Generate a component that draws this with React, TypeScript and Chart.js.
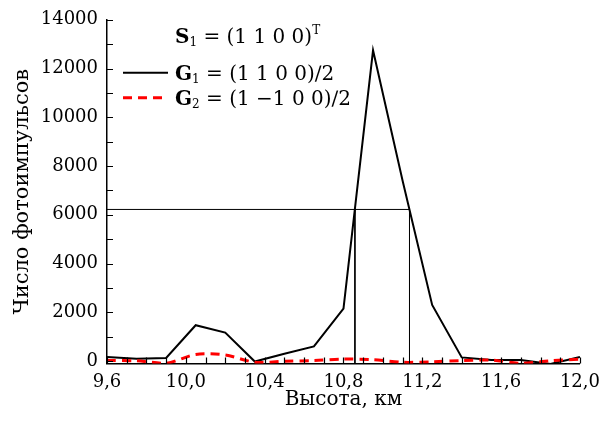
import React, { useEffect, useRef } from "react";
import { Chart, registerables } from "chart.js";

Chart.register(...registerables);

// ---- data ----
const heights = [9.6, 9.75, 9.9, 10.05, 10.2, 10.35, 10.5, 10.65, 10.8, 10.95, 11.1, 11.25, 11.4, 11.55, 11.7, 11.85, 12.0];
const g1Counts = [170, 100, 130, 1470, 1170, -20, 300, 600, 2150, 12750, 7400, 2300, 150, 40, 40, -120, 170];
const g2Counts = [20, 10, -90, 270, 250, -50, -10, 20, 80, 60, -50, -30, 20, 40, -90, 10, 80];

const halfLevel = 6220;
const halfLeft = 10.858;
const halfRight = 11.135;

const xTickValues = [9.6, 10.0, 10.4, 10.8, 11.2, 11.6, 12.0];
const xMinorTicks = [9.6, 9.7, 9.8, 9.9, 10.0, 10.1, 10.2, 10.3, 10.4, 10.5, 10.6, 10.7, 10.8, 10.9, 11.0, 11.1, 11.2, 11.3, 11.4, 11.5, 11.6, 11.7, 11.8, 11.9, 12.0];
const yTickValues = [0, 2000, 4000, 6000, 8000, 10000, 12000, 14000];
const yMinorTicks = [0, 1000, 2000, 3000, 4000, 5000, 6000, 7000, 8000, 9000, 10000, 11000, 12000, 13000, 14000];

const xMin = 9.6;
const xMax = 12.0;
const yMin = -100;
const yMax = 14000;

const FAM = '"DejaVu Serif", serif';

const innerTicksPlugin = {
  id: "innerTicks",
  afterDraw(chart: any) {
    const { ctx, chartArea } = chart;
    const xs = chart.scales.x;
    const ys = chart.scales.y;
    ctx.save();
    ctx.strokeStyle = "#000";
    ctx.lineWidth = 1.2;
    ctx.beginPath();
    for (const v of xMinorTicks) {
      const px = Math.round(xs.getPixelForValue(v)) + 0.5;
      ctx.moveTo(px, chartArea.bottom);
      ctx.lineTo(px, chartArea.bottom - 6);
    }
    for (const v of yMinorTicks) {
      const py = Math.round(ys.getPixelForValue(v)) + 0.5;
      ctx.moveTo(chartArea.left, py);
      ctx.lineTo(chartArea.left + 6, py);
    }
    ctx.stroke();
    ctx.restore();
  },
};

const formulaLegendPlugin = {
  id: "formulaLegend",
  afterDraw(chart: any) {
    const { ctx, chartArea } = chart;
    const size = 20;
    const reg = `${size}px ${FAM}`;
    const bold = `bold ${size}px ${FAM}`;
    const small = `${Math.round(size * 0.62)}px ${FAM}`;
    const textX = chartArea.left + 68;
    const top = chartArea.top;
    const drawRuns = (x: number, y: number, runs: { t: string; f: string; dy?: number }[]) => {
      for (const r of runs) {
        ctx.font = r.f;
        ctx.fillText(r.t, x, y + (r.dy || 0));
        x += ctx.measureText(r.t).width;
      }
    };
    ctx.save();
    ctx.fillStyle = "#000";
    ctx.textBaseline = "alphabetic";
    ctx.textAlign = "left";
    drawRuns(textX, top + 23, [
      { t: "S", f: bold },
      { t: "1", f: small, dy: 3 },
      { t: " = (1 1 0 0)", f: reg },
      { t: "T", f: small, dy: -9 },
    ]);
    drawRuns(textX, top + 60, [
      { t: "G", f: bold },
      { t: "1", f: small, dy: 3 },
      { t: " = (1 1 0 0)∕2", f: reg },
    ]);
    drawRuns(textX, top + 85, [
      { t: "G", f: bold },
      { t: "2", f: small, dy: 3 },
      { t: " = (1 −1 0 0)∕2", f: reg },
    ]);
    // line samples
    const sx0 = chartArea.left + 16;
    const sx1 = chartArea.left + 61;
    ctx.strokeStyle = "#000";
    ctx.lineWidth = 2;
    ctx.setLineDash([]);
    ctx.beginPath();
    ctx.moveTo(sx0, top + 53);
    ctx.lineTo(sx1, top + 53);
    ctx.stroke();
    ctx.strokeStyle = "#ff0000";
    ctx.lineWidth = 3;
    ctx.setLineDash([9, 6]);
    ctx.beginPath();
    ctx.moveTo(sx0, top + 78);
    ctx.lineTo(sx1, top + 78);
    ctx.stroke();
    ctx.restore();
  },
};

export default function App() {
  const ref = useRef<HTMLCanvasElement | null>(null);

  useEffect(() => {
    document.body.style.margin = "0";
    if (!ref.current) return;
    const g1 = heights.map((h, i) => ({ x: h, y: g1Counts[i] }));
    const g2 = heights.map((h, i) => ({ x: h, y: g2Counts[i] }));
    const halfH = [
      { x: xMin, y: halfLevel },
      { x: halfRight, y: halfLevel },
    ];
    const vLeft = [
      { x: halfLeft, y: halfLevel },
      { x: halfLeft, y: yMin },
    ];
    const vRight = [
      { x: halfRight, y: halfLevel },
      { x: halfRight, y: yMin },
    ];
    const thin = {
      borderColor: "#000",
      borderWidth: 1,
      pointRadius: 0,
      fill: false,
      tension: 0,
    };
    const chart = new Chart(ref.current, {
      type: "line",
      data: {
        datasets: [
          { label: "half", data: halfH, ...thin },
          { label: "vl", data: vLeft, ...thin },
          { label: "vr", data: vRight, ...thin },
          {
            label: "G2",
            data: g2,
            borderColor: "#ff0000",
            borderWidth: 3,
            borderDash: [9, 6],
            pointRadius: 0,
            fill: false,
            tension: 0.3,
          },
          {
            label: "G1",
            data: g1,
            borderColor: "#000",
            borderWidth: 2,
            pointRadius: 0,
            fill: false,
            tension: 0,
          },
        ],
      },
      options: {
        animation: false,
        responsive: false,
        devicePixelRatio: 1,
        layout: { padding: { top: 18, right: 28, left: 0, bottom: 0 } },
        plugins: {
          legend: { display: false },
          tooltip: { enabled: false },
        },
        scales: {
          x: {
            type: "linear",
            min: xMin,
            max: xMax,
            grid: { display: false, drawTicks: false },
            border: { display: true, color: "#000", width: 1.5 },
            afterBuildTicks: (s: any) => {
              s.ticks = xTickValues.map((v) => ({ value: v }));
            },
            afterFit: (s: any) => {
              s.height = 57.5;
            },
            ticks: {
              color: "#000",
              font: { family: FAM, size: 18 },
              padding: 8,
              maxRotation: 0,
              autoSkip: false,
              callback: (v: any) => Number(v).toFixed(1).replace(".", ","),
            },
            title: {
              display: true,
              text: "Высота, км",
              color: "#000",
              font: { family: FAM, size: 20 },
              padding: { top: 0, bottom: 9 },
            },
          },
          y: {
            type: "linear",
            min: yMin,
            max: yMax,
            grid: { display: false, drawTicks: false },
            border: { display: true, color: "#000", width: 1.5 },
            afterBuildTicks: (s: any) => {
              s.ticks = yTickValues.map((v) => ({ value: v }));
            },
            afterFit: (s: any) => {
              s.width = 107;
            },
            ticks: {
              color: "#000",
              font: { family: FAM, size: 18 },
              padding: 9,
              autoSkip: false,
              callback: (v: any) => String(v),
            },
            title: {
              display: true,
              text: "Число фотоимпульсов",
              color: "#000",
              font: { family: FAM, size: 21 },
              padding: { top: 10, bottom: 0 },
            },
          },
        },
      },
      plugins: [innerTicksPlugin, formulaLegendPlugin],
    });
    return () => chart.destroy();
  }, []);

  return (
    <div style={{ position: "absolute", left: 0, top: 0, width: 608, height: 421 }}>
      <canvas ref={ref} width={608} height={421} />
    </div>
  );
}
